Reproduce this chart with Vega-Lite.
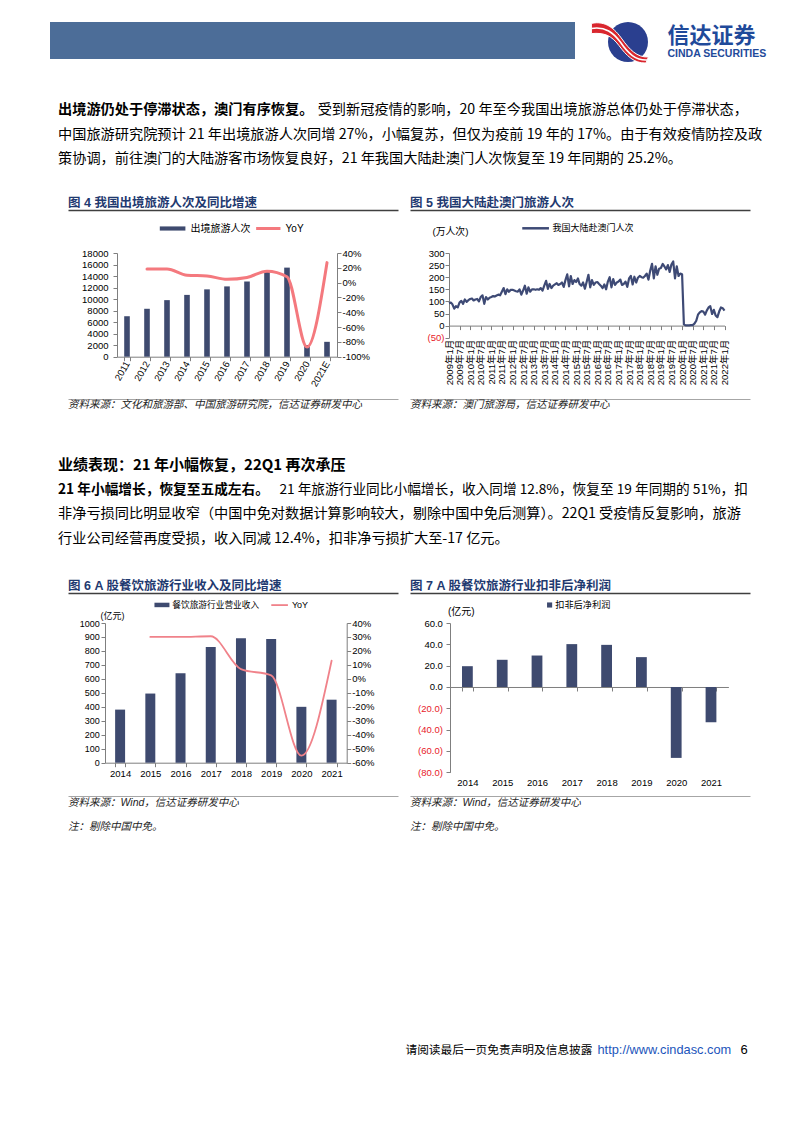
{
  "$schema": "https://vega.github.io/schema/vega-lite/v6.json",
  "background": "white",
  "padding": {"left": 50, "top": 20, "right": 0, "bottom": 0},
  "spacing": 0,
  "resolve": {"scale": {"fill": "independent", "stroke": "independent"}},
  "config": {
    "view": {"stroke": null},
    "axis": {"grid": false, "labelFont": "Liberation Sans, Noto Sans CJK SC", "labelColor": "#000000", "titleFont": "Liberation Sans, Noto Sans CJK SC", "titleFontWeight": "normal", "titleColor": "#000000", "domainColor": "#7f7f7f", "tickColor": "#7f7f7f"},
    "legend": {"padding": 0, "labelFont": "Liberation Sans, Noto Sans CJK SC", "labelColor": "#000000"}
  },
  "vconcat": [
    {"spacing": 0, "bounds": "flush", "hconcat": [
      {"width": 525, "height": 37, "view": {"fill": "#4c6d98", "stroke": null}, "data": {"values": []}, "mark": "point"},
      {"width": 30, "height": 1, "data": {"values": []}, "mark": "point"},
      {"width": 46, "height": 40, "data": {"values": [{"k": "logo"}]}, "layer": [
        {"mark": {"type": "point", "shape": "circle", "size": 1600, "filled": true, "fill": "#2a3f8f", "opacity": 1}},
        {"mark": {"type": "point", "shape": "M-1.22,-0.62 C-0.75,-0.72 -0.45,-0.45 -0.2,-0.1 C0.05,0.25 0.3,0.52 0.68,0.5 L0.6,0.7 C0.2,0.72 -0.05,0.45 -0.3,0.12 C-0.55,-0.22 -0.8,-0.32 -1.22,-0.28 Z", "size": 3600, "filled": true, "fill": "#d9262e", "stroke": "#ffffff", "strokeWidth": 1, "opacity": 1}},
        {"mark": {"type": "point", "shape": "M-1.22,-0.45 C-0.75,-0.53 -0.48,-0.3 -0.25,0.01 C0.0,0.38 0.26,0.62 0.64,0.6", "size": 3600, "filled": false, "stroke": "#ffffff", "strokeWidth": 1.6, "opacity": 1}}
      ]},
      {"width": 16, "height": 1, "data": {"values": []}, "mark": "point"},
      {"width": 1, "height": 46.5, "data": {"values": [{"k": "cn", "t": "信达证券"}, {"k": "en", "t": "CINDA SECURITIES"}]}, "layer": [
        {"transform": [{"filter": "datum.k == 'cn'"}], "mark": {"type": "text", "align": "left", "baseline": "middle", "font": "Noto Sans CJK SC", "fontWeight": "bold", "fontSize": 22, "color": "#1f4a9a"},
         "encoding": {"text": {"field": "t"}, "y": {"field": "k", "type": "nominal", "scale": {"type": "band", "domain": ["cn", "en"], "paddingInner": 0, "paddingOuter": 0.257}, "axis": null}}},
        {"transform": [{"filter": "datum.k == 'en'"}], "mark": {"type": "text", "align": "left", "baseline": "middle", "font": "Liberation Sans", "fontWeight": "bold", "fontSize": 10.5, "color": "#1f4a9a"},
         "encoding": {"text": {"field": "t"}, "y": {"field": "k", "type": "nominal", "axis": null}}}
      ]}
    ]},
    {"width": 1, "height": 28.15, "data": {"values": []}, "mark": "point"},
    {"spacing": 0, "bounds": "flush", "hconcat": [
      {"width": 8, "height": 73.5, "data": {"values": []}, "mark": "point"},
      {"width": 690, "height": 73.5,
       "data": {"values": [
         {"line": 1, "lead": "出境游仍处于停滞状态，澳门有序恢复。", "rest": "受到新冠疫情的影响，20 年至今我国出境旅游总体仍处于停滞状态，"},
         {"line": 2, "text": "中国旅游研究院预计 21 年出境旅游人次同增 27%，小幅复苏，但仅为疫前 19 年的 17%。由于有效疫情防控及政"},
         {"line": 3, "text": "策协调，前往澳门的大陆游客市场恢复良好，21 年我国大陆赴澳门人次恢复至 19 年同期的 25.2%。"}
       ]},
       "encoding": {"y": {"field": "line", "type": "ordinal", "scale": {"type": "band", "paddingInner": 0, "paddingOuter": 0}, "axis": null}},
       "layer": [
         {"transform": [{"filter": "isValid(datum.text)"}], "mark": {"type": "text", "align": "left", "baseline": "middle", "font": "Noto Sans CJK SC", "fontSize": 14.2, "color": "#000000"},
          "encoding": {"text": {"field": "text"}, "x": {"datum": 0, "type": "quantitative", "scale": {"domain": [0, 1], "nice": false, "zero": false}, "axis": null}}},
         {"transform": [{"filter": "isValid(datum.lead)"}], "mark": {"type": "text", "align": "left", "baseline": "middle", "font": "Noto Sans CJK SC", "fontSize": 14.2, "fontWeight": "bold", "color": "#000000"},
          "encoding": {"text": {"field": "lead"}, "x": {"datum": 0, "type": "quantitative"}}},
         {"transform": [{"filter": "isValid(datum.rest)"}], "mark": {"type": "text", "align": "right", "baseline": "middle", "font": "Noto Sans CJK SC", "fontSize": 14.2, "color": "#000000"},
          "encoding": {"text": {"field": "rest"}, "x": {"datum": 1, "type": "quantitative"}}}
       ]}
    ]},
    {"width": 1, "height": 23.55, "data": {"values": []}, "mark": "point"},
    {"spacing": 0, "bounds": "flush", "hconcat": [
      {"width": 18, "height": 14, "data": {"values": []}, "mark": "point"},
      {"width": 330, "height": 14, "data": {"values": [{"t": "\u00a0\u00a0图 4 我国出境旅游人次及同比增速"}]},
       "mark": {"type": "text", "align": "left", "baseline": "middle", "font": "Liberation Sans, Noto Sans CJK SC", "fontSize": 12.5, "fontWeight": "bold", "color": "#1f3a70"},
       "encoding": {"text": {"field": "t"}, "x": {"datum": 0, "type": "quantitative", "scale": {"domain": [0, 1], "nice": false}, "axis": {"orient": "bottom", "labels": false, "ticks": false, "title": null, "domainColor": "#3f3f3f", "domainWidth": 1.5}}}},
      {"width": 12, "height": 14, "data": {"values": []}, "mark": "point"},
      {"width": 340, "height": 14, "data": {"values": [{"t": "\u00a0图 5 我国大陆赴澳门旅游人次"}]},
       "mark": {"type": "text", "align": "left", "baseline": "middle", "font": "Liberation Sans, Noto Sans CJK SC", "fontSize": 12.5, "fontWeight": "bold", "color": "#1f3a70"},
       "encoding": {"text": {"field": "t"}, "x": {"datum": 0, "type": "quantitative", "scale": {"domain": [0, 1], "nice": false}, "axis": {"orient": "bottom", "labels": false, "ticks": false, "title": null, "domainColor": "#3f3f3f", "domainWidth": 1.5}}}}
    ]},
    {"width": 1, "height": 12.45, "data": {"values": []}, "mark": "point"},
    {"spacing": 0, "bounds": "flush", "resolve": {"scale": {"fill": "independent", "stroke": "independent"}}, "hconcat": [
      {"width": 66.7, "height": 145.3, "data": {"values": []}, "mark": "point"},
      {"width": 220, "height": 103.7,
       "data": {"values": [
         {"year": "2011", "visitors": 7025},
         {"year": "2012", "visitors": 8318, "yoy": 0.185},
         {"year": "2013", "visitors": 9819, "yoy": 0.185},
         {"year": "2014", "visitors": 10728, "yoy": 0.10},
         {"year": "2015", "visitors": 11689, "yoy": 0.09},
         {"year": "2016", "visitors": 12203, "yoy": 0.045},
         {"year": "2017", "visitors": 13051, "yoy": 0.07},
         {"year": "2018", "visitors": 14720, "yoy": 0.155},
         {"year": "2019", "visitors": 15463, "yoy": 0.08},
         {"year": "2020", "visitors": 2033, "yoy": -0.87},
         {"year": "2021E", "visitors": 2582, "yoy": 0.27}
       ]},
       "layer": [
         {"mark": {"type": "bar"},
          "encoding": {
            "x": {"field": "year", "type": "ordinal", "scale": {"paddingInner": 0.72, "paddingOuter": 0.36}, "axis": {"title": null, "labelAngle": -60, "labelFontSize": 9.5, "tickBand": "extent", "tickSize": 4, "labelPadding": 1}},
            "y": {"field": "visitors", "type": "quantitative", "scale": {"domain": [0, 18000], "nice": false}, "axis": {"title": null, "values": [0, 2000, 4000, 6000, 8000, 10000, 12000, 14000, 16000, 18000], "format": "d", "labelFontSize": 9.5, "tickSize": 4, "labelPadding": 5}},
            "fill": {"datum": "出境旅游人次", "type": "nominal", "scale": {"range": ["#3e4a6f"]}, "legend": {"orient": "none", "legendX": 50.6, "legendY": -29.5, "title": null, "symbolType": "M-4,-0.65H4V0.65H-4Z", "symbolSize": 41, "labelOffset": 12.8, "labelFontSize": 10, "symbolStrokeWidth": 0}}
          }},
         {"mark": {"type": "line", "interpolate": "monotone", "strokeWidth": 3, "strokeCap": "round"},
          "encoding": {
            "x": {"field": "year", "type": "ordinal"},
            "y": {"field": "yoy", "type": "quantitative", "scale": {"domain": [-1, 0.4], "nice": false}, "axis": {"orient": "right", "title": null, "values": [-1, -0.8, -0.6, -0.4, -0.2, 0, 0.2, 0.4], "labelExpr": "(datum.value < 0 ? '-' : '') + format(abs(datum.value), '.0%')", "labelFontSize": 9.5, "tickSize": 4, "labelPadding": 1}},
            "stroke": {"datum": "YoY", "type": "nominal", "scale": {"range": ["#f4797e"]}, "legend": {"orient": "none", "legendX": 146.3, "legendY": -29.5, "title": null, "symbolType": "M-3.8,0H3.8", "symbolSize": 41, "labelOffset": 12.3, "labelFontSize": 10, "symbolStrokeWidth": 3}}
          }}
       ],
       "resolve": {"scale": {"y": "independent"}}},
      {"width": 111.3, "height": 1, "data": {"values": []}, "mark": "point"},
      {"width": 275.5, "height": 84.7,
       "data": {"values": [
         {"m": "2009-01", "v": 92}, {"m": "2009-02", "v": 95}, {"m": "2009-03", "v": 88}, {"m": "2009-04", "v": 70}, {"m": "2009-05", "v": 80}, {"m": "2009-06", "v": 75}, {"m": "2009-07", "v": 95}, {"m": "2009-08", "v": 102}, {"m": "2009-09", "v": 90}, {"m": "2009-10", "v": 108}, {"m": "2009-11", "v": 98}, {"m": "2009-12", "v": 105},
         {"m": "2010-01", "v": 110}, {"m": "2010-02", "v": 112}, {"m": "2010-03", "v": 104}, {"m": "2010-04", "v": 108}, {"m": "2010-05", "v": 110}, {"m": "2010-06", "v": 100}, {"m": "2010-07", "v": 118}, {"m": "2010-08", "v": 125}, {"m": "2010-09", "v": 90}, {"m": "2010-10", "v": 118}, {"m": "2010-11", "v": 108}, {"m": "2010-12", "v": 115},
         {"m": "2011-01", "v": 118}, {"m": "2011-02", "v": 122}, {"m": "2011-03", "v": 120}, {"m": "2011-04", "v": 124}, {"m": "2011-05", "v": 128}, {"m": "2011-06", "v": 125}, {"m": "2011-07", "v": 140}, {"m": "2011-08", "v": 155}, {"m": "2011-09", "v": 130}, {"m": "2011-10", "v": 150}, {"m": "2011-11", "v": 140}, {"m": "2011-12", "v": 148},
         {"m": "2012-01", "v": 148}, {"m": "2012-02", "v": 145}, {"m": "2012-03", "v": 142}, {"m": "2012-04", "v": 140}, {"m": "2012-05", "v": 150}, {"m": "2012-06", "v": 128}, {"m": "2012-07", "v": 145}, {"m": "2012-08", "v": 165}, {"m": "2012-09", "v": 132}, {"m": "2012-10", "v": 158}, {"m": "2012-11", "v": 140}, {"m": "2012-12", "v": 150},
         {"m": "2013-01", "v": 150}, {"m": "2013-02", "v": 148}, {"m": "2013-03", "v": 150}, {"m": "2013-04", "v": 148}, {"m": "2013-05", "v": 155}, {"m": "2013-06", "v": 145}, {"m": "2013-07", "v": 165}, {"m": "2013-08", "v": 185}, {"m": "2013-09", "v": 152}, {"m": "2013-10", "v": 172}, {"m": "2013-11", "v": 155}, {"m": "2013-12", "v": 165},
         {"m": "2014-01", "v": 170}, {"m": "2014-02", "v": 175}, {"m": "2014-03", "v": 168}, {"m": "2014-04", "v": 172}, {"m": "2014-05", "v": 178}, {"m": "2014-06", "v": 160}, {"m": "2014-07", "v": 188}, {"m": "2014-08", "v": 212}, {"m": "2014-09", "v": 162}, {"m": "2014-10", "v": 205}, {"m": "2014-11", "v": 172}, {"m": "2014-12", "v": 188},
         {"m": "2015-01", "v": 180}, {"m": "2015-02", "v": 195}, {"m": "2015-03", "v": 172}, {"m": "2015-04", "v": 165}, {"m": "2015-05", "v": 178}, {"m": "2015-06", "v": 152}, {"m": "2015-07", "v": 180}, {"m": "2015-08", "v": 210}, {"m": "2015-09", "v": 158}, {"m": "2015-10", "v": 188}, {"m": "2015-11", "v": 168}, {"m": "2015-12", "v": 178},
         {"m": "2016-01", "v": 180}, {"m": "2016-02", "v": 172}, {"m": "2016-03", "v": 165}, {"m": "2016-04", "v": 155}, {"m": "2016-05", "v": 170}, {"m": "2016-06", "v": 150}, {"m": "2016-07", "v": 182}, {"m": "2016-08", "v": 200}, {"m": "2016-09", "v": 158}, {"m": "2016-10", "v": 192}, {"m": "2016-11", "v": 168}, {"m": "2016-12", "v": 178},
         {"m": "2017-01", "v": 182}, {"m": "2017-02", "v": 190}, {"m": "2017-03", "v": 168}, {"m": "2017-04", "v": 172}, {"m": "2017-05", "v": 182}, {"m": "2017-06", "v": 160}, {"m": "2017-07", "v": 195}, {"m": "2017-08", "v": 205}, {"m": "2017-09", "v": 170}, {"m": "2017-10", "v": 202}, {"m": "2017-11", "v": 178}, {"m": "2017-12", "v": 198},
         {"m": "2018-01", "v": 205}, {"m": "2018-02", "v": 200}, {"m": "2018-03", "v": 198}, {"m": "2018-04", "v": 205}, {"m": "2018-05", "v": 215}, {"m": "2018-06", "v": 190}, {"m": "2018-07", "v": 228}, {"m": "2018-08", "v": 255}, {"m": "2018-09", "v": 195}, {"m": "2018-10", "v": 245}, {"m": "2018-11", "v": 210}, {"m": "2018-12", "v": 235},
         {"m": "2019-01", "v": 238}, {"m": "2019-02", "v": 255}, {"m": "2019-03", "v": 245}, {"m": "2019-04", "v": 232}, {"m": "2019-05", "v": 250}, {"m": "2019-06", "v": 222}, {"m": "2019-07", "v": 252}, {"m": "2019-08", "v": 265}, {"m": "2019-09", "v": 195}, {"m": "2019-10", "v": 245}, {"m": "2019-11", "v": 205}, {"m": "2019-12", "v": 215},
         {"m": "2020-01", "v": 212}, {"m": "2020-02", "v": 5}, {"m": "2020-03", "v": 1}, {"m": "2020-04", "v": 1}, {"m": "2020-05", "v": 1}, {"m": "2020-06", "v": 2}, {"m": "2020-07", "v": 2}, {"m": "2020-08", "v": 8}, {"m": "2020-09", "v": 20}, {"m": "2020-10", "v": 45}, {"m": "2020-11", "v": 55}, {"m": "2020-12", "v": 60},
         {"m": "2021-01", "v": 58}, {"m": "2021-02", "v": 45}, {"m": "2021-03", "v": 62}, {"m": "2021-04", "v": 75}, {"m": "2021-05", "v": 80}, {"m": "2021-06", "v": 48}, {"m": "2021-07", "v": 65}, {"m": "2021-08", "v": 42}, {"m": "2021-09", "v": 35}, {"m": "2021-10", "v": 58}, {"m": "2021-11", "v": 75}, {"m": "2021-12", "v": 72},
         {"m": "2022-01", "v": 62}
       ]},
       "mark": {"type": "line", "strokeWidth": 2.2, "strokeJoin": "round"},
       "encoding": {
         "x": {"field": "m", "type": "temporal", "scale": {"type": "utc", "nice": false}, "axis": {"title": null, "labelExpr": "utcFormat(datum.value, '%Y年%-m月')", "tickCount": {"interval": "month", "step": 6}, "labelAngle": -90, "labelFontSize": 9.5, "labelOverlap": false, "labelFlush": false, "offset": -12.1, "tickSize": 4, "labelPadding": 9.7}},
         "y": {"field": "v", "type": "quantitative", "scale": {"domain": [-50, 300], "nice": false}, "axis": {"title": "(万人次)", "titleAngle": 0, "titleAlign": "left", "titleBaseline": "middle", "titleX": -17, "titleY": -22, "titleFontSize": 9.8, "values": [-50, 0, 50, 100, 150, 200, 250, 300], "labelExpr": "datum.value < 0 ? '(' + format(-datum.value, 'd') + ')' : format(datum.value, 'd')", "labelColor": {"condition": {"test": "datum.value < 0", "value": "#e8202a"}, "value": "#000000"}, "labelFontSize": 9.5, "tickSize": 4, "labelPadding": 1}},
         "stroke": {"datum": "我国大陆赴澳门人次", "type": "nominal", "scale": {"range": ["#3e4a75"]}, "legend": {"orient": "none", "legendX": 82.1, "legendY": -29.2, "title": null, "symbolType": "M-4.17,0H4.17", "symbolSize": 41, "labelOffset": 12.5, "labelFontSize": 9, "symbolStrokeWidth": 2.5}}
       }}
    ]},
    {"spacing": 0, "bounds": "flush", "hconcat": [
      {"width": 18, "height": 12, "data": {"values": []}, "mark": "point"},
      {"width": 330, "height": 12, "data": {"values": [{"t": "\u00a0\u00a0资料来源：文化和旅游部、中国旅游研究院，信达证券研发中心"}]},
       "mark": {"type": "text", "align": "left", "baseline": "middle", "font": "Liberation Sans, Noto Sans CJK SC", "fontSize": 10.5, "fontStyle": "italic", "color": "#222222"},
       "encoding": {"text": {"field": "t"}, "x": {"datum": 0, "type": "quantitative", "scale": {"domain": [0, 1], "nice": false}, "axis": {"orient": "top", "labels": false, "ticks": false, "title": null, "domainColor": "#a6a6a6", "domainWidth": 1}}}},
      {"width": 12, "height": 12, "data": {"values": []}, "mark": "point"},
      {"width": 340, "height": 12, "data": {"values": [{"t": "\u00a0\u00a0资料来源：澳门旅游局，信达证券研发中心"}]},
       "mark": {"type": "text", "align": "left", "baseline": "middle", "font": "Liberation Sans, Noto Sans CJK SC", "fontSize": 10.5, "fontStyle": "italic", "color": "#222222"},
       "encoding": {"text": {"field": "t"}, "x": {"datum": 0, "type": "quantitative", "scale": {"domain": [0, 1], "nice": false}, "axis": {"orient": "top", "labels": false, "ticks": false, "title": null, "domainColor": "#a6a6a6", "domainWidth": 1}}}}
    ]},
    {"width": 1, "height": 41.45, "data": {"values": []}, "mark": "point"},
    {"spacing": 0, "bounds": "flush", "hconcat": [
      {"width": 8, "height": 98, "data": {"values": []}, "mark": "point"},
      {"width": 690, "height": 98,
       "data": {"values": [
         {"line": 1, "head": "业绩表现：21 年小幅恢复，22Q1 再次承压"},
         {"line": 2, "lead": "21 年小幅增长，恢复至五成左右。", "rest": "21 年旅游行业同比小幅增长，收入同增 12.8%，恢复至 19 年同期的 51%，扣"},
         {"line": 3, "text": "非净亏损同比明显收窄（中国中免对数据计算影响较大，剔除中国中免后测算）。22Q1 受疫情反复影响，旅游"},
         {"line": 4, "text": "行业公司经营再度受损，收入同减 12.4%，扣非净亏损扩大至-17 亿元。"}
       ]},
       "encoding": {"y": {"field": "line", "type": "ordinal", "scale": {"type": "band", "paddingInner": 0, "paddingOuter": 0}, "axis": null}},
       "layer": [
         {"transform": [{"filter": "isValid(datum.text)"}], "mark": {"type": "text", "align": "left", "baseline": "middle", "font": "Noto Sans CJK SC", "fontSize": 14.2, "color": "#000000"},
          "encoding": {"text": {"field": "text"}, "x": {"datum": 0, "type": "quantitative", "scale": {"domain": [0, 1], "nice": false, "zero": false}, "axis": null}}},
         {"transform": [{"filter": "isValid(datum.lead)"}], "mark": {"type": "text", "align": "left", "baseline": "middle", "font": "Noto Sans CJK SC", "fontSize": 13.7, "fontWeight": "bold", "color": "#000000"},
          "encoding": {"text": {"field": "lead"}, "x": {"datum": 0, "type": "quantitative"}}},
         {"transform": [{"filter": "isValid(datum.rest)"}], "mark": {"type": "text", "align": "right", "baseline": "middle", "font": "Noto Sans CJK SC", "fontSize": 13.7, "color": "#000000"},
          "encoding": {"text": {"field": "rest"}, "x": {"datum": 1, "type": "quantitative"}}},
         {"transform": [{"filter": "isValid(datum.head)"}], "mark": {"type": "text", "align": "left", "baseline": "middle", "font": "Noto Sans CJK SC", "fontSize": 15, "fontWeight": "bold", "color": "#000000"},
          "encoding": {"text": {"field": "head"}, "x": {"datum": 0, "type": "quantitative"}}}
       ]}
    ]},
    {"width": 1, "height": 27.45, "data": {"values": []}, "mark": "point"},
    {"spacing": 0, "bounds": "flush", "hconcat": [
      {"width": 18, "height": 14, "data": {"values": []}, "mark": "point"},
      {"width": 330, "height": 14, "data": {"values": [{"t": "\u00a0\u00a0图 6 A 股餐饮旅游行业收入及同比增速"}]},
       "mark": {"type": "text", "align": "left", "baseline": "middle", "font": "Liberation Sans, Noto Sans CJK SC", "fontSize": 12.5, "fontWeight": "bold", "color": "#1f3a70"},
       "encoding": {"text": {"field": "t"}, "x": {"datum": 0, "type": "quantitative", "scale": {"domain": [0, 1], "nice": false}, "axis": {"orient": "bottom", "labels": false, "ticks": false, "title": null, "domainColor": "#3f3f3f", "domainWidth": 1.5}}}},
      {"width": 12, "height": 14, "data": {"values": []}, "mark": "point"},
      {"width": 340, "height": 14, "data": {"values": [{"t": "\u00a0图 7 A 股餐饮旅游行业扣非后净利润"}]},
       "mark": {"type": "text", "align": "left", "baseline": "middle", "font": "Liberation Sans, Noto Sans CJK SC", "fontSize": 12.5, "fontWeight": "bold", "color": "#1f3a70"},
       "encoding": {"text": {"field": "t"}, "x": {"datum": 0, "type": "quantitative", "scale": {"domain": [0, 1], "nice": false}, "axis": {"orient": "bottom", "labels": false, "ticks": false, "title": null, "domainColor": "#3f3f3f", "domainWidth": 1.5}}}}
    ]},
    {"width": 1, "height": 6.95, "data": {"values": []}, "mark": "point"},
    {"spacing": 0, "bounds": "flush", "resolve": {"scale": {"fill": "independent", "stroke": "independent"}}, "hconcat": [
      {"width": 55, "height": 172.3, "data": {"values": []}, "mark": "point"},
      {"width": 241.7, "height": 139.7,
       "data": {"values": [
         {"year": "2014", "rev": 380},
         {"year": "2015", "rev": 495, "yoy": 0.30},
         {"year": "2016", "rev": 640, "yoy": 0.30},
         {"year": "2017", "rev": 828, "yoy": 0.305},
         {"year": "2018", "rev": 890, "yoy": 0.07},
         {"year": "2019", "rev": 886, "yoy": 0.025},
         {"year": "2020", "rev": 400, "yoy": -0.55},
         {"year": "2021", "rev": 451, "yoy": 0.13}
       ]},
       "layer": [
         {"mark": {"type": "bar"},
          "encoding": {
            "x": {"field": "year", "type": "ordinal", "scale": {"paddingInner": 0.67, "paddingOuter": 0.335}, "axis": {"title": null, "labelAngle": 0, "labelFontSize": 9.5, "tickBand": "extent", "tickSize": 4, "labelPadding": 2}},
            "y": {"field": "rev", "type": "quantitative", "scale": {"domain": [0, 1000], "nice": false}, "axis": {"title": "(亿元)", "titleAngle": 0, "titleAlign": "left", "titleBaseline": "middle", "titleX": -5, "titleY": -7.3, "titleFontSize": 9, "values": [0, 100, 200, 300, 400, 500, 600, 700, 800, 900, 1000], "format": "d", "labelFontSize": 9, "tickSize": 4, "labelPadding": 1.7}},
            "fill": {"datum": "餐饮旅游行业营业收入", "type": "nominal", "scale": {"range": ["#3e4a6f"]}, "legend": {"orient": "none", "legendX": 52.6, "legendY": -22.4, "title": null, "symbolType": "M-2.34,-0.7H2.34V0.7H-2.34Z", "symbolSize": 41, "labelOffset": 6, "labelFontSize": 8.7, "symbolStrokeWidth": 0}}
          }},
         {"mark": {"type": "line", "interpolate": "monotone", "strokeWidth": 1.8, "strokeCap": "round"},
          "encoding": {
            "x": {"field": "year", "type": "ordinal"},
            "y": {"field": "yoy", "type": "quantitative", "scale": {"domain": [-0.6, 0.4], "nice": false}, "axis": {"orient": "right", "title": null, "values": [-0.6, -0.5, -0.4, -0.3, -0.2, -0.1, 0, 0.1, 0.2, 0.3, 0.4], "labelExpr": "(datum.value < 0 ? '-' : '') + format(abs(datum.value), '.0%')", "labelFontSize": 9.5, "tickSize": 4, "labelPadding": 1}},
            "stroke": {"datum": "YoY", "type": "nominal", "scale": {"range": ["#f0828a"]}, "legend": {"orient": "none", "legendX": 170.1, "legendY": -22.4, "title": null, "symbolType": "M-2.6,0H2.6", "symbolSize": 41, "labelOffset": 7.8, "labelFontSize": 9, "symbolStrokeWidth": 1.8}}
          }}
       ],
       "resolve": {"scale": {"y": "independent"}}},
      {"width": 102.6, "height": 1, "data": {"values": []}, "mark": "point"},
      {"width": 278.4, "height": 149.3,
       "data": {"values": [
         {"year": "2014", "np": 19.5},
         {"year": "2015", "np": 25.5},
         {"year": "2016", "np": 29.5},
         {"year": "2017", "np": 40.2},
         {"year": "2018", "np": 39.5},
         {"year": "2019", "np": 28.0},
         {"year": "2020", "np": -66.5},
         {"year": "2021", "np": -33.0}
       ]},
       "mark": {"type": "bar"},
       "encoding": {
         "x": {"field": "year", "type": "ordinal", "scale": {"paddingInner": 0.69, "paddingOuter": 0.345}, "axis": {"title": null, "labelAngle": 0, "labelFontSize": 9.5, "tickBand": "extent", "tickSize": 4, "offset": -85.31, "labelPadding": 87}},
         "y": {"field": "np", "type": "quantitative", "scale": {"domain": [-80, 60], "nice": false}, "axis": {"title": "(亿元)", "titleAngle": 0, "titleAlign": "left", "titleBaseline": "middle", "titleX": -2.6, "titleY": -12, "titleFontSize": 10, "values": [-80, -60, -40, -20, 0, 20, 40, 60], "labelExpr": "datum.value < 0 ? '(' + format(-datum.value, '.1f') + ')' : format(datum.value, '.1f')", "labelColor": {"condition": {"test": "datum.value < 0", "value": "#e8202a"}, "value": "#000000"}, "labelFontSize": 9.5, "tickSize": 4, "labelPadding": 3.6}},
         "fill": {"datum": "扣非后净利润", "type": "nominal", "scale": {"range": ["#3e4a6f"]}, "legend": {"orient": "none", "legendX": 95, "legendY": -22.6, "title": null, "symbolType": "M-0.8,-0.8H0.8V0.8H-0.8Z", "symbolSize": 41, "labelOffset": 1, "labelFontSize": 9.2, "symbolStrokeWidth": 0}}
       }}
    ]},
    {"spacing": 0, "bounds": "flush", "hconcat": [
      {"width": 18, "height": 14, "data": {"values": []}, "mark": "point"},
      {"width": 330, "height": 14, "data": {"values": [{"t": "\u00a0\u00a0资料来源：Wind，信达证券研发中心"}]},
       "mark": {"type": "text", "align": "left", "baseline": "middle", "font": "Liberation Sans, Noto Sans CJK SC", "fontSize": 10.5, "fontStyle": "italic", "color": "#222222"},
       "encoding": {"text": {"field": "t"}, "x": {"datum": 0, "type": "quantitative", "scale": {"domain": [0, 1], "nice": false}, "axis": {"orient": "top", "labels": false, "ticks": false, "title": null, "domainColor": "#a6a6a6", "domainWidth": 1}}}},
      {"width": 12, "height": 14, "data": {"values": []}, "mark": "point"},
      {"width": 340, "height": 14, "data": {"values": [{"t": "\u00a0资料来源：Wind，信达证券研发中心"}]},
       "mark": {"type": "text", "align": "left", "baseline": "middle", "font": "Liberation Sans, Noto Sans CJK SC", "fontSize": 10.5, "fontStyle": "italic", "color": "#222222"},
       "encoding": {"text": {"field": "t"}, "x": {"datum": 0, "type": "quantitative", "scale": {"domain": [0, 1], "nice": false}, "axis": {"orient": "top", "labels": false, "ticks": false, "title": null, "domainColor": "#a6a6a6", "domainWidth": 1}}}}
    ]},
    {"width": 1, "height": 10, "data": {"values": []}, "mark": "point"},
    {"spacing": 0, "bounds": "flush", "hconcat": [
      {"width": 18, "height": 14, "data": {"values": []}, "mark": "point"},
      {"width": 330, "height": 14, "data": {"values": [{"t": "\u00a0\u00a0注：剔除中国中免。"}]},
       "mark": {"type": "text", "align": "left", "baseline": "middle", "font": "Liberation Sans, Noto Sans CJK SC", "fontSize": 10.5, "fontStyle": "italic", "color": "#222222"},
       "encoding": {"text": {"field": "t"}, "x": {"datum": 0, "type": "quantitative", "scale": {"domain": [0, 1], "nice": false}, "axis": null}}},
      {"width": 12, "height": 14, "data": {"values": []}, "mark": "point"},
      {"width": 340, "height": 14, "data": {"values": [{"t": "\u00a0注：剔除中国中免。"}]},
       "mark": {"type": "text", "align": "left", "baseline": "middle", "font": "Liberation Sans, Noto Sans CJK SC", "fontSize": 10.5, "fontStyle": "italic", "color": "#222222"},
       "encoding": {"text": {"field": "t"}, "x": {"datum": 0, "type": "quantitative", "scale": {"domain": [0, 1], "nice": false}, "axis": null}}}
    ]},
    {"width": 1, "height": 208.5, "data": {"values": []}, "mark": "point"},
    {"spacing": 0, "bounds": "flush", "hconcat": [
      {"width": 542, "height": 14, "data": {"values": []}, "mark": "point"},
      {"width": 1, "height": 14, "data": {"values": [{"t": "请阅读最后一页免责声明及信息披露"}]},
       "mark": {"type": "text", "align": "right", "baseline": "middle", "font": "Noto Sans CJK SC", "fontSize": 11.7, "color": "#000000"},
       "encoding": {"text": {"field": "t"}}},
      {"width": 4, "height": 14, "data": {"values": []}, "mark": "point"},
      {"width": 1, "height": 14, "data": {"values": [{"t": "http://www.cindasc.com"}]},
       "mark": {"type": "text", "align": "left", "baseline": "middle", "font": "Liberation Sans", "fontSize": 12.8, "color": "#2255bb"},
       "encoding": {"text": {"field": "t"}}},
      {"width": 141.3, "height": 14, "data": {"values": []}, "mark": "point"},
      {"width": 1, "height": 14, "data": {"values": [{"t": "6"}]},
       "mark": {"type": "text", "align": "left", "baseline": "middle", "font": "Liberation Sans", "fontSize": 13, "color": "#000000"},
       "encoding": {"text": {"field": "t"}}}
    ]}
  ]
}
